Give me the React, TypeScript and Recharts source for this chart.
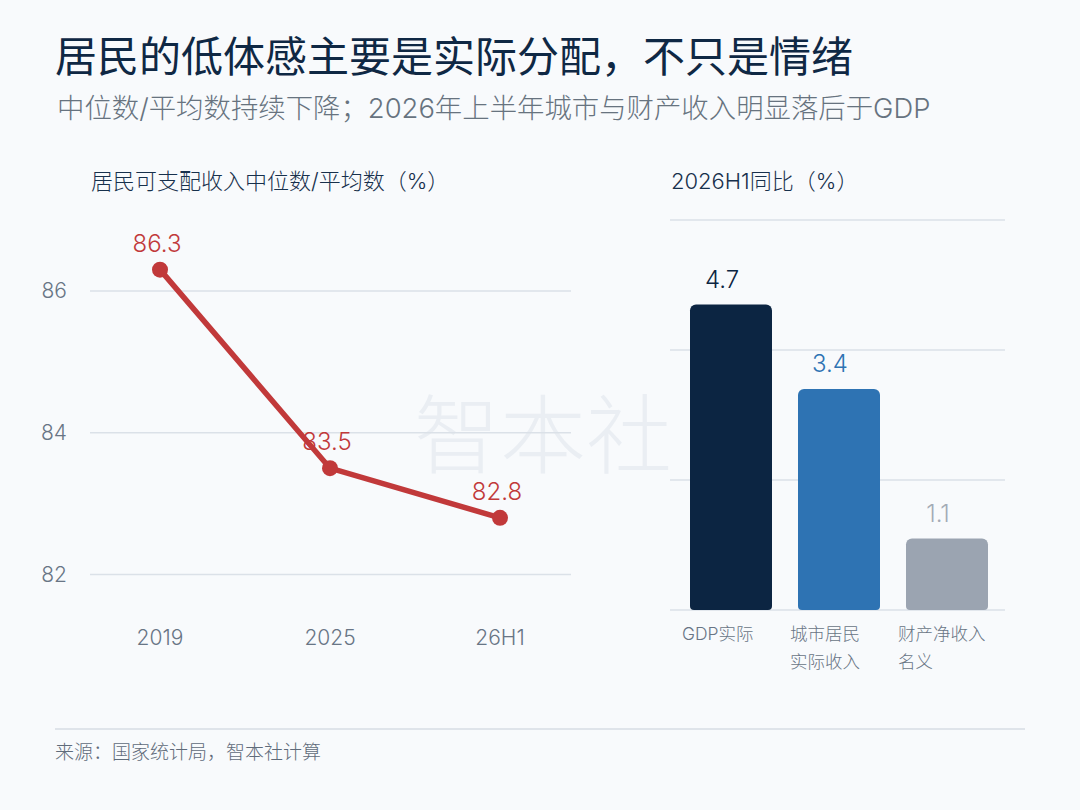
import React from "react";
import {
  LineChart,
  Line,
  BarChart,
  Bar,
  Cell,
  XAxis,
  YAxis,
  CartesianGrid,
  ReferenceLine,
  LabelList,
} from "recharts";

const years = ["2019", "2025", "26H1"];
const ratioValues = [86.3, 83.5, 82.8];
const ratioTicks = [82, 84, 86];

const growthCategories = ["GDP实际", "城市居民\n实际收入", "财产净收入\n名义"];
const growthValues = [4.7, 3.4, 1.1];
const growthTicks = [0, 2, 4, 6];

const growthColors = ["#0c2542", "#2e73b3", "#9ba4b1"];
const growthLabelColors = ["#0c2542", "#2e73b3", "#a3abb6"];

const ratioData = years.map((year, i) => ({ year, value: ratioValues[i] }));
const growthData = growthCategories.map((name, i) => ({
  name,
  value: growthValues[i],
}));

const FONT = "Inter, 'Noto Sans CJK SC', sans-serif";
const RED = "#c1393a";
const GRID = "#dbe1e8";
const TICK = "#687585";

const LineLabel = (props: any) => {
  const { x, y, value } = props;
  return (
    <text
      x={x - 3}
      y={y - 18}
      textAnchor="middle"
      fill={RED}
      fontSize={24}
      fontFamily={FONT}
      fontWeight={300}
    >
      {value}
    </text>
  );
};

const BarLabel = (props: any) => {
  const { x, y, width, value, index } = props;
  const i = index ?? growthValues.indexOf(value);
  return (
    <text
      x={x + width / 2 - 9}
      y={y - 17}
      textAnchor="middle"
      fill={growthLabelColors[i]}
      fontSize={24}
      fontFamily={FONT}
      fontWeight={300}
    >
      {value}
    </text>
  );
};

const BarTick = (props: any) => {
  const { x, y, payload } = props;
  const lines = String(payload.value).split("\n");
  return (
    <text
      x={x - 49}
      y={y}
      fill={TICK}
      fontSize={17.5}
      fontFamily={FONT}
      fontWeight={300}
    >
      {lines.map((line, i) => (
        <tspan key={i} x={x - 49} y={y + 30 + i * 28}>
          {line}
        </tspan>
      ))}
    </text>
  );
};

export default function App() {
  return (
    <div
      style={{
        position: "absolute",
        left: 0,
        top: 0,
        width: 1080,
        height: 810,
        background: "#f8fafc",
        fontFamily: FONT,
        overflow: "hidden",
      }}
    >
      <div
        style={{
          position: "absolute",
          left: 414,
          top: 386,
          fontSize: 86,
          lineHeight: "100px",
          color: "#eaeef3",
          fontWeight: 300,
        }}
      >
        智本社
      </div>

      <div
        style={{
          position: "absolute",
          left: 55,
          top: 30,
          fontSize: 42,
          lineHeight: "54px",
          color: "#0f2844",
          fontWeight: 400,
        }}
      >
        居民的低体感主要是实际分配，不只是情绪
      </div>
      <div
        style={{
          position: "absolute",
          left: 57,
          top: 91,
          fontSize: 27.4,
          lineHeight: "34px",
          color: "#67737f",
          fontWeight: 300,
        }}
      >
        中位数/平均数持续下降；2026年上半年城市与财产收入明显落后于GDP
      </div>

      <div
        style={{
          position: "absolute",
          left: 91,
          top: 166,
          fontSize: 22,
          lineHeight: "30px",
          color: "#17304c",
          fontWeight: 300,
        }}
      >
        居民可支配收入中位数/平均数（%）
      </div>
      <div
        style={{
          position: "absolute",
          left: 671,
          top: 166,
          fontSize: 22,
          lineHeight: "30px",
          color: "#17304c",
          fontWeight: 300,
        }}
      >
        2026H1同比（%）
      </div>

      <div style={{ position: "absolute", left: 0, top: 200 }}>
        <LineChart
          width={590}
          height={460}
          data={ratioData}
          margin={{ top: 20, right: 19, bottom: 0, left: 0 }}
        >
          {ratioTicks.map((t) => (
            <ReferenceLine
              key={t}
              y={t}
              stroke={GRID}
              strokeWidth={1.5}
              ifOverflow="extendDomain"
            />
          ))}
          <XAxis
            dataKey="year"
            axisLine={false}
            tickLine={false}
            tickSize={0}
            tickMargin={20}
            height={50}
            padding={{ left: 70, right: 71 }}
            tick={{ fill: TICK, fontSize: 21, fontFamily: FONT, fontWeight: 300 }}
          />
          <YAxis
            width={90}
            domain={[81.5, 87]}
            ticks={ratioTicks}
            axisLine={false}
            tickLine={false}
            tickSize={0}
            tickMargin={23}
            tick={{ fill: TICK, fontSize: 21, fontFamily: FONT, fontWeight: 300 }}
          />
          <Line
            type="linear"
            dataKey="value"
            stroke={RED}
            strokeWidth={5.5}
            dot={{ r: 8, fill: RED, stroke: "none" }}
            isAnimationActive={false}
          >
            <LabelList dataKey="value" content={<LineLabel />} />
          </Line>
        </LineChart>
      </div>

      <div style={{ position: "absolute", left: 650, top: 200 }}>
        <BarChart
          width={380}
          height={480}
          data={growthData}
          margin={{ top: 20, right: 25, bottom: 0, left: 20 }}
        >
          <CartesianGrid
            vertical={false}
            stroke={GRID}
            strokeWidth={1.5}
          />
          <XAxis
            dataKey="name"
            axisLine={false}
            tickLine={false}
            tickSize={0}
            tickMargin={0}
            height={70}
            interval={0}
            padding={{ left: 7, right: 4 }}
            tick={<BarTick />}
          />
          <YAxis hide domain={[0, 6]} ticks={growthTicks} />
          <Bar
            dataKey="value"
            barSize={82}
            radius={[6, 6, 4, 4]}
            isAnimationActive={false}
          >
            {growthData.map((d, i) => (
              <Cell key={d.name} fill={growthColors[i]} />
            ))}
            <LabelList dataKey="value" content={<BarLabel />} />
          </Bar>
        </BarChart>
      </div>

      <div
        style={{
          position: "absolute",
          left: 55,
          top: 728,
          width: 970,
          height: 2,
          background: "#dfe4ea",
        }}
      />
      <div
        style={{
          position: "absolute",
          left: 55,
          top: 740,
          fontSize: 19,
          lineHeight: "26px",
          color: "#5f6b7a",
          fontWeight: 300,
        }}
      >
        来源：国家统计局，智本社计算
      </div>
    </div>
  );
}
